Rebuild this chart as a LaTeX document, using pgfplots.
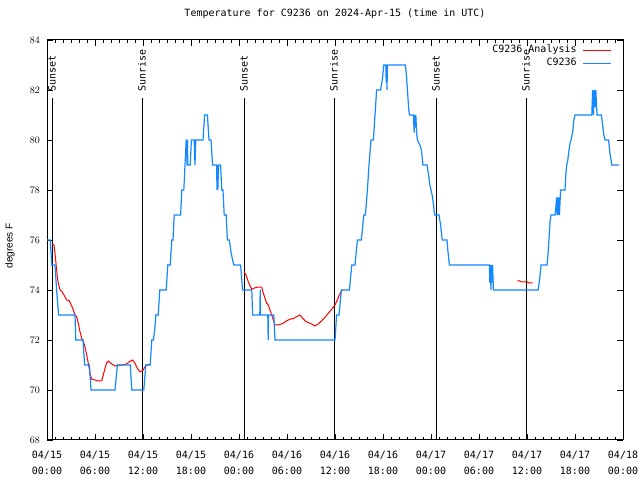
\documentclass[border=0pt]{standalone}
\usepackage{fontspec}
\setmainfont{Liberation Sans}
\newfontfamily\gmono{DejaVu Sans Mono}
\usepackage{pgfplots}
\pgfplotsset{compat=1.18}
\definecolor{gblue}{RGB}{20,136,255}
\definecolor{gred}{RGB}{255,0,0}
\newcommand{\mf}{\gmono\fontsize{10bp}{16bp}\selectfont}
\begin{document}
\begin{tikzpicture}[x=1bp,y=1bp]
\path[use as bounding box, fill=white] (0,0) rectangle (640,480);
\begin{axis}[
 at={(47bp,40bp)}, anchor=south west,
 scale only axis, width=576bp, height=400bp,
 xmin=0, xmax=72, ymin=68, ymax=84,
 xtick={0,6,...,72},
 xticklabels={{04/15\\00:00},{04/15\\06:00},{04/15\\12:00},{04/15\\18:00},{04/16\\00:00},{04/16\\06:00},{04/16\\12:00},{04/16\\18:00},{04/17\\00:00},{04/17\\06:00},{04/17\\12:00},{04/17\\18:00},{04/18\\00:00}},
 minor x tick num=5,
 ytick={68,70,...,84},
 tick align=inside,
 major tick length=6bp, minor tick length=3bp,
 tick style={black, line width=0.8bp},
 axis line style={line width=1bp},
 xticklabel style={font=\mf, align=center, anchor=north, inner sep=0pt, yshift=-11bp},
 yticklabel style={font=\fontsize{10bp}{12bp}\selectfont, anchor=east, inner sep=0pt, xshift=-7bp},
 every axis y label/.style={at={(axis description cs:-0.0642,0.485)}, rotate=90, anchor=center, font=\fontsize{10bp}{12bp}\selectfont},
 ylabel={degrees F},
 title style={font=\mf, at={(axis description cs:0.5,1)}, anchor=center, yshift=20bp, inner sep=0pt},
 title={Temperature for C9236 on 2024-Apr-15 (time in UTC)},
 legend plot pos=right,
 legend cell align=right,
 legend image code/.code={\draw[#1] (0bp,0bp) -- (28bp,0bp);},
 legend style={draw=none, fill=none, at={(axis description cs:1,1)}, anchor=north east, xshift=-11bp, yshift=-5.5bp, font=\gmono\fontsize{10bp}{12bp}\selectfont, row sep=4bp, column sep=6bp, inner sep=0pt, nodes={inner sep=0pt, text height=7bp, text depth=2bp}},
 unbounded coords=jump,
]
% sunset / sunrise lines
\addplot[black, line width=1bp, forget plot] coordinates {(0.625,68)(0.625,81.68)};
\addplot[black, line width=1bp, forget plot] coordinates {(11.875,68)(11.875,81.68)};
\addplot[black, line width=1bp, forget plot] coordinates {(24.625,68)(24.625,81.68)};
\addplot[black, line width=1bp, forget plot] coordinates {(35.875,68)(35.875,81.68)};
\addplot[black, line width=1bp, forget plot] coordinates {(48.625,68)(48.625,81.68)};
\addplot[black, line width=1bp, forget plot] coordinates {(59.875,68)(59.875,81.68)};
\node[rotate=90, anchor=west, font=\mf, inner sep=0pt] at (axis cs:0.625,81.92) {Sunset};
\node[rotate=90, anchor=west, font=\mf, inner sep=0pt] at (axis cs:11.875,81.92) {Sunrise};
\node[rotate=90, anchor=west, font=\mf, inner sep=0pt] at (axis cs:24.625,81.92) {Sunset};
\node[rotate=90, anchor=west, font=\mf, inner sep=0pt] at (axis cs:35.875,81.92) {Sunrise};
\node[rotate=90, anchor=west, font=\mf, inner sep=0pt] at (axis cs:48.625,81.92) {Sunset};
\node[rotate=90, anchor=west, font=\mf, inner sep=0pt] at (axis cs:59.875,81.92) {Sunrise};
% analysis
\addplot[gred, line width=1bp] coordinates {
(0.59,75.84)(0.875,75.8)(1.0,75.47)(1.125,75.07)(1.29,74.53)(1.41,74.27)(1.625,74.0)(1.84,73.96)(2.04,73.84)(2.25,73.73)(2.46,73.6)(2.79,73.57)(3.09,73.36)(3.29,73.2)(3.5,73.0)(3.71,72.93)(3.91,72.67)(4.125,72.33)(4.34,72.07)(4.54,71.93)(4.75,71.73)(4.96,71.4)(5.16,71.07)(5.375,70.67)(5.59,70.43)(6.0,70.4)(6.41,70.36)(6.84,70.37)(7.04,70.6)(7.25,70.87)(7.46,71.09)(7.66,71.16)(8.09,71.04)(8.5,70.96)(8.91,70.99)(9.34,71.0)(9.96,71.04)(10.29,71.13)(10.71,71.2)(11.0,71.07)(11.29,70.87)(11.625,70.73)(11.96,70.77)(12.25,70.93)(12.54,71.01)(12.875,71.01)
(13.0,nan)
(24.625,74.73)(24.875,74.6)(25.16,74.33)(25.46,74.11)(25.59,74.03)(25.875,74.07)(26.21,74.11)(26.84,74.11)(27.04,73.87)(27.25,73.67)(27.46,73.47)(27.66,73.4)(27.875,73.2)(28.09,73.0)(28.29,72.8)(28.5,72.6)(28.91,72.6)(29.54,72.67)(29.96,72.77)(30.375,72.83)(30.875,72.87)(31.21,72.93)(31.625,73.0)(31.96,72.87)(32.25,72.77)(32.66,72.69)(33.09,72.64)(33.5,72.56)(33.91,72.64)(34.34,72.77)(34.75,72.91)(35.16,73.07)(35.59,73.23)(36.0,73.4)(36.29,73.6)(36.54,73.8)(36.75,73.93)(36.96,74.0)
(37.0,nan)
(58.8,74.37)(59.1,74.36)(59.2,74.33)(60.04,74.32)(60.17,74.29)(60.71,74.28)
};
\addlegendentry{C9236 Analysis}
% observations
\addplot[gblue, line width=1.2bp] coordinates {
(0,76)(0.4,76)(0.6,75)(1.0,75)(1.2,74)(1.45,73)(3.5,73)(3.6,72)(4.5,72)(4.7,71)(5.3,71)(5.5,70)(8.5,70)(8.8,71)(10.4,71)(10.6,70)(12.1,70)(12.35,71)(12.9,71)(13.1,72)(13.3,72)(13.5,72.5)(13.6,73)(13.9,73)(14.1,74)(14.9,74)(15.1,75)(15.4,75)(15.6,76)(15.75,76)(15.9,77)(16.7,77)(16.85,78)(17.1,78)(17.25,79)(17.4,80)(17.45,80)(17.5,79)(17.55,80)(17.6,79)(17.9,79)(18.05,80)(18.4,80)(18.5,79)(18.6,80)(19.5,80)(19.7,81)(20.05,81)(20.25,80)(20.5,80)(20.7,79)(21.2,79)(21.25,78)(21.3,79)(21.35,78)(21.45,79)(21.7,79)(21.85,78)(22.0,78)(22.15,77)(22.4,77)(22.55,76)(22.8,76)(23.0,75.5)(23.35,75)(24.2,75)(24.45,74)(25.6,74)(25.7,73)(26.6,73)(26.65,74)(26.7,73)(27.6,73)(27.65,72)(27.7,73)(28.35,73)(28.5,72)(36.0,72)(36.2,73)(36.5,73)(36.8,74)(37.8,74)(38.1,75)(38.5,75)(38.8,76)(39.3,76)(39.6,77)(39.8,77)(40.05,78)(40.25,79)(40.5,80)(40.8,80)(41.0,81)(41.2,82)(41.7,82)(41.95,82.5)(42.1,83)(42.35,83)(42.4,82.3)(42.45,83)(42.5,82)(42.55,83)(44.8,83)(44.95,82.5)(45.05,82)(45.2,81.3)(45.3,81)(45.8,81)(45.9,80.3)(45.95,81)(46.05,80.5)(46.1,81)(46.2,80.3)(46.3,80)(46.6,79.8)(46.8,79.6)(47.0,79)(47.5,79)(47.7,78.6)(47.85,78.2)(48.0,78)(48.2,77.7)(48.45,77)(49.0,77)(49.2,76.6)(49.4,76)(50.0,76)(50.1,75.6)(50.3,75)(55.3,75)(55.35,74.3)(55.4,75)(55.5,74)(55.55,75)(55.65,74.3)(55.7,75)(55.8,74)(61.4,74)(61.6,74.5)(61.75,75)(62.5,75)(62.6,75.3)(62.7,75.8)(62.8,76.3)(62.9,76.8)(63.0,77)(63.5,77)(63.6,77.3)(63.7,77.7)(63.75,77)(63.85,77.7)(63.9,77)(64.0,77.7)(64.05,77)(64.2,78)(64.75,78)(64.85,78.6)(64.96,79)(65.1,79.2)(65.25,79.6)(65.4,79.9)(65.5,80)(65.7,80.3)(65.85,80.8)(66.0,81)(68.1,81)(68.2,82)(68.3,81)(68.4,82)(68.5,81.3)(68.6,82)(68.75,81)(69.3,81)(69.45,80.6)(69.6,80.2)(69.75,80)(70.2,80)(70.35,79.5)(70.5,79.2)(70.6,79)(71.5,79)
};
\addlegendentry{C9236}
\end{axis}
\end{tikzpicture}
\end{document}
